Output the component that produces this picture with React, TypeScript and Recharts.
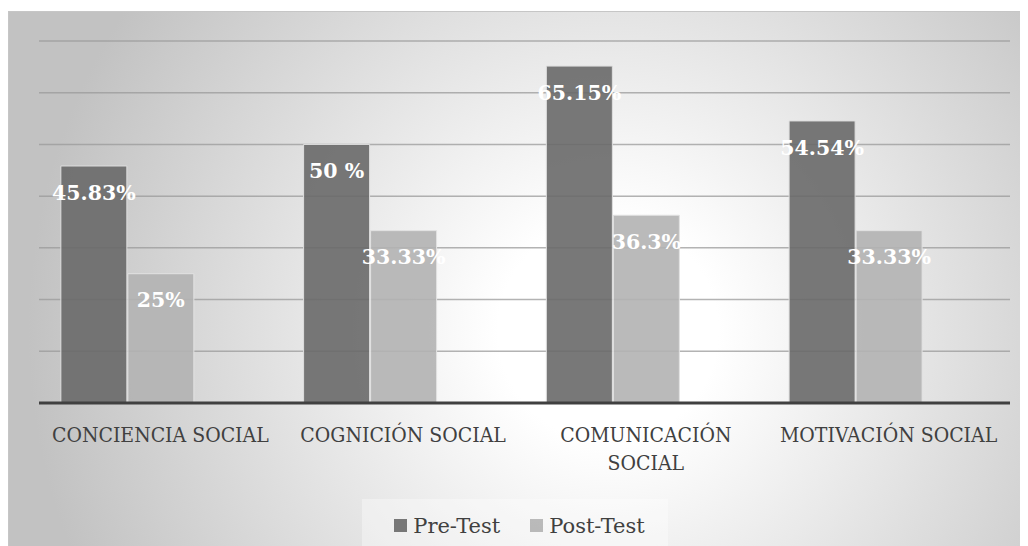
import React from "react";
import { BarChart, Bar, XAxis, YAxis, CartesianGrid, Legend, LabelList, Text } from "recharts";

// Categories and series values (percentages)
const categories = ["CONCIENCIA SOCIAL", "COGNICIÓN SOCIAL", "COMUNICACIÓN SOCIAL", "MOTIVACIÓN SOCIAL"];
const preTest = [45.83, 50, 65.15, 54.54];
const postTest = [25, 33.33, 36.3, 33.33];
const preLabels = ["45.83%", "50 %", "65.15%", "54.54%"];
const postLabels = ["25%", "33.33%", "36.3%", "33.33%"];
// third slot of each group is left empty
const emptySeries = [null, null, null, null];
const yTicks = [0, 10, 20, 30, 40, 50, 60, 70];
const legendOrder = ["Pre-Test", "Post-Test"];

const data = categories.map((name, i) => ({
  name,
  pre: preTest[i],
  post: postTest[i],
  preLabel: preLabels[i],
  postLabel: postLabels[i],
  empty: emptySeries[i],
}));

const SERIF = "'DejaVu Serif', 'Liberation Serif', serif";
const TICK_FONT = "'DejaVu Serif Condensed', 'Liberation Serif', serif";

const CategoryTick = (props: any) => {
  const { x, y, payload } = props;
  return (
    <Text
      x={x}
      y={y + 24}
      width={236}
      textAnchor="middle"
      verticalAnchor="start"
      lineHeight={28}
      fill="#404040"
      fontFamily={TICK_FONT}
      fontSize={21}
      style={{ fontFamily: TICK_FONT, fontSize: "21px" }}
    >
      {payload.value}
    </Text>
  );
};

const renderLegend = (props: any) => {
  const items = (props.payload || [])
    .filter((entry: any) => legendOrder.includes(entry.value))
    .sort((a: any, b: any) => legendOrder.indexOf(a.value) - legendOrder.indexOf(b.value));
  return (
    <div
      style={{
        display: "flex",
        justifyContent: "center",
        alignItems: "center",
        gap: 30,
        height: "100%",
        boxSizing: "border-box",
        paddingTop: 6,
        paddingLeft: 9,
        background: "rgba(255,255,255,0.35)",
        fontFamily: SERIF,
        fontSize: 21,
        color: "#404040",
        whiteSpace: "nowrap",
      }}
    >
      {items.map((entry: any) => (
        <div key={entry.value} style={{ display: "flex", alignItems: "center", flexShrink: 0 }}>
          <span
            style={{
              display: "inline-block",
              width: 13,
              height: 13,
              background: entry.color,
              opacity: 0.9,
              marginRight: 6,
            }}
          />
          <span>{entry.value}</span>
        </div>
      ))}
    </div>
  );
};

export default function App() {
  return (
    <>
      <style>{"html,body{overflow:hidden}"}</style>
      <div
        style={{
          marginTop: 3,
          width: 1020,
          height: 535,
          boxShadow: "inset 1px 1px 0 #c6c6c6",
          background:
            "radial-gradient(circle at 600px 320px, #ffffff 0px, #ffffff 110px, #c2c2c2 580px)",
        }}
      >
        <BarChart
          width={1020}
          height={535}
          data={data}
          margin={{ top: 30, right: 18, left: 31, bottom: 16 }}
          barCategoryGap="9%"
          barGap={1}
        >
          <CartesianGrid vertical={false} stroke="#9a9a9a" strokeOpacity={0.75} strokeWidth={1.5} />
          <YAxis hide domain={[0, 70]} ticks={yTicks} />
          <XAxis
            dataKey="name"
            height={80}
            tickSize={0}
            tickMargin={0}
            tickLine={false}
            axisLine={{ stroke: "#404040", strokeWidth: 3 }}
            tick={<CategoryTick />}
            interval={0}
          />
          <Legend
            verticalAlign="bottom"
            content={renderLegend}
            wrapperStyle={{ left: 354, width: 306, bottom: 0, height: 47 }}
          />
          <Bar
            dataKey="pre"
            name="Pre-Test"
            fill="#696969"
            fillOpacity={0.9}
            stroke="#dedede"
            strokeWidth={1}
            isAnimationActive={false}
          >
            <LabelList
              dataKey="preLabel"
              position="insideTop"
              offset={19}
              fill="#ffffff"
              fontWeight="bold"
              fontSize={20.5}
              fontFamily={SERIF}
            />
          </Bar>
          <Bar
            dataKey="post"
            name="Post-Test"
            fill="#b3b3b3"
            fillOpacity={0.9}
            stroke="#e2e2e2"
            strokeWidth={1}
            isAnimationActive={false}
          >
            <LabelList
              dataKey="postLabel"
              position="insideTop"
              offset={19}
              fill="#ffffff"
              fontWeight="bold"
              fontSize={20.5}
              fontFamily={SERIF}
            />
          </Bar>
          <Bar dataKey="empty" legendType="none" fill="none" isAnimationActive={false} />
        </BarChart>
      </div>
    </>
  );
}
